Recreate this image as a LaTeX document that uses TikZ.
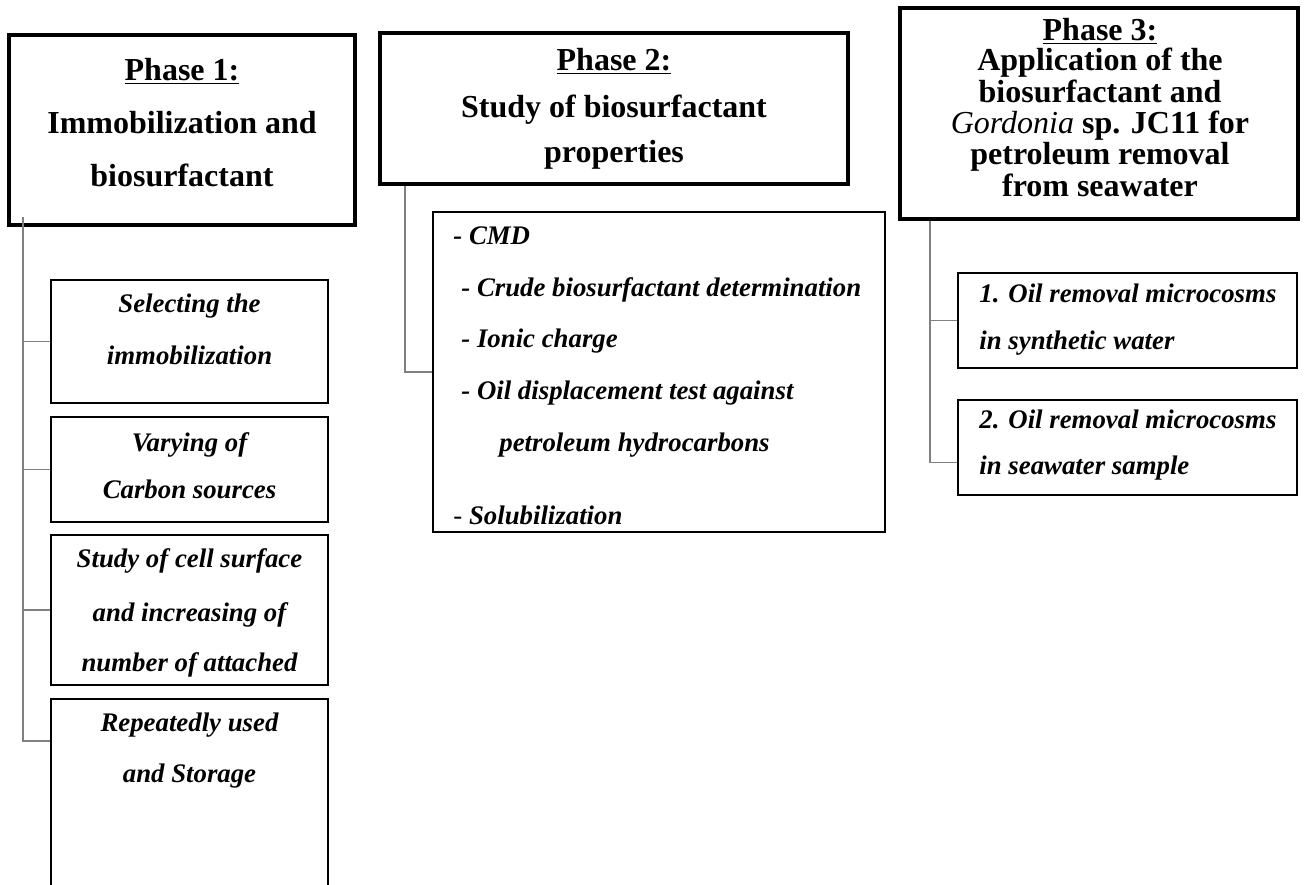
\documentclass[tikz,border=0pt]{standalone}
\usepackage{fontspec}
\setmainfont{Liberation Serif}
\usetikzlibrary{fit}
\begin{document}
\begin{tikzpicture}[x=0.5pt,y=-0.5pt,
  head/.style={draw=black,line width=2pt,inner sep=0pt},
  sub/.style={draw=black,line width=1.1pt,inner sep=0pt},
  conn/.style={draw=black!50,line width=0.85pt},
  ht/.style={font=\fontsize{16}{19}\selectfont\bfseries,anchor=base,inner sep=0pt},
  bt/.style={font=\fontsize{13.4}{16}\selectfont\bfseries\itshape,anchor=base,inner sep=0pt},
  btl/.style={bt,anchor=base west}]
\useasboundingbox (0,0) rectangle (1307,884);
\clip (0,0) rectangle (1307,884);
% Phase 1
\node[head,fit={(9,35) (355,225)}] (p1) {};
\node[ht] (p1a) at (182,80) {\underline{Phase 1:}};
\node[ht] (p1b) at (182,133) {Immobilization and};
\node[ht] (p1c) at (182,186) {biosurfactant};
\node[sub,fit={(51,280) (328,403)}] (s1) {};
\node[bt] (s1a) at (189.5,312) {Selecting the};
\node[bt] (s1b) at (189.5,364) {immobilization};
\node[sub,fit={(51,417) (328,522)}] (s2) {};
\node[bt] (s2a) at (189.5,451) {Varying of};
\node[bt] (s2b) at (189.5,498) {Carbon sources};
\node[sub,fit={(51,535) (328,685)}] (s3) {};
\node[bt] (s3a) at (189.5,567) {Study of cell surface};
\node[bt] (s3b) at (189.5,621) {and increasing of};
\node[bt] (s3c) at (189.5,671) {number of attached};
\node[sub,fit={(51,699) (328,910)}] (s4) {};
\node[bt] (s4a) at (189.5,731) {Repeatedly used};
\node[bt] (s4b) at (189.5,782) {and Storage};
\coordinate (c1) at ([xshift=8pt,yshift=5pt]p1.south west);
\coordinate (s4w) at ([yshift=-21.5pt]s4.north west);
\draw[conn] (c1) |- (s4w);
\draw[conn] (c1 |- s1.west) -- (s1.west);
\draw[conn] (c1 |- s2.west) -- (s2.west);
\draw[conn] (c1 |- s3.west) -- (s3.west);
% Phase 2
\node[head,fit={(380,33) (848,184)}] (p2) {};
\node[ht] (p2a) at (614,70) {\underline{Phase 2:}};
\node[ht] (p2b) at (614,117) {Study of biosurfactant};
\node[ht] (p2c) at (614,162) {properties};
\node[sub,fit={(433,212) (885,532)}] (q0) {};
\node[btl] (q0a) at (453,244) {- CMD};
\node[btl] (q0b) at (461,296) {- Crude biosurfactant determination};
\node[btl] (q0c) at (461,347) {- Ionic charge};
\node[btl] (q0d) at (461,399) {- Oil displacement test against};
\node[btl] (q0e) at (499,451) {petroleum hydrocarbons};
\node[btl] (q0f) at (453,524) {{\mdseries\upshape -} Solubilization};
\coordinate (c2) at ([xshift=13.5pt]p2.south west);
\draw[conn] (c2) |- (q0.west);
% Phase 3
\node[head,fit={(900,8) (1298,219)}] (p3) {};
\node[ht] (p3a) at (1100,40) {\underline{Phase 3:}};
\node[ht] (p3b) at (1100,70) {Application of the};
\node[ht] (p3c) at (1100,102) {biosurfactant and};
\node[ht] (p3d) at (1100,133) {{\mdseries\itshape Gordonia} sp. JC11 for};
\node[ht] (p3e) at (1100,164) {petroleum removal};
\node[ht] (p3f) at (1100,196) {from seawater};
\node[sub,fit={(958,273) (1297,368)}] (r1) {};
\node[btl] (r1a) at (979,302) {1. Oil removal microcosms};
\node[btl] (r1b) at (979,349) {in synthetic water};
\node[sub,fit={(958,400) (1297,495)}] (r2) {};
\node[btl] (r2a) at (979,428) {2. Oil removal microcosms};
\node[btl] (r2b) at (979,474) {in seawater sample};
\coordinate (c3) at ([xshift=16pt]p3.south west);
\coordinate (r2w) at ([yshift=-7.5pt]r2.west);
\draw[conn] (c3) |- (r2w);
\draw[conn] (c3 |- r1.west) -- (r1.west);
\end{tikzpicture}
\end{document}
